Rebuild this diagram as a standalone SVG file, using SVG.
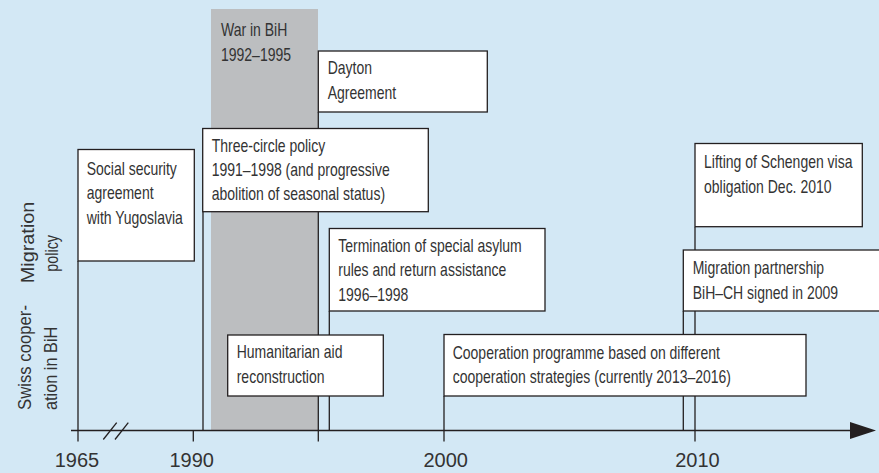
<svg xmlns="http://www.w3.org/2000/svg" width="879" height="473" viewBox="0 0 879 473">
<style>
.bg{fill:#d3e8f5}
.box{fill:#ffffff;stroke:#231f20;stroke-width:1.3}
.ln{stroke:#231f20;stroke-width:1.3;fill:none}
.t{font-family:"Liberation Sans",Arial,sans-serif;font-size:17.5px;fill:#333333}
.yr{font-family:"Liberation Sans",Arial,sans-serif;font-size:20px;fill:#333333;text-anchor:middle}
.side{font-family:"Liberation Sans",Arial,sans-serif;font-size:18px;fill:#333333}
</style>
<rect class="bg" x="0" y="0" width="879" height="473"/>
<rect id="war-band" x="211" y="9" width="107" height="421.5" fill="#bcbec0"/>
<g id="connectors">
  <line class="ln" x1="78" y1="261" x2="78" y2="441.5"/>
  <line class="ln" x1="193.3" y1="430.5" x2="193.3" y2="441.5"/>
  <line class="ln" x1="203" y1="212" x2="203" y2="430.5"/>
  <line class="ln" x1="318.3" y1="112" x2="318.3" y2="441.5"/>
  <line class="ln" x1="329.3" y1="311" x2="329.3" y2="430.5"/>
  <line class="ln" x1="444" y1="396" x2="444" y2="441.5"/>
  <line class="ln" x1="683.3" y1="311" x2="683.3" y2="430.5"/>
  <line class="ln" x1="695" y1="227" x2="695" y2="441.5"/>
  <line class="ln" x1="71" y1="430.5" x2="852" y2="430.5"/>
  <polygon points="850,422 876,430.5 850,439" fill="#231f20"/>
  <line class="ln" x1="103.3" y1="439.5" x2="116.7" y2="422.7"/>
  <line class="ln" x1="115" y1="439.5" x2="128.3" y2="422.7"/>
</g>
<g id="war">
  <text class="t" transform="matrix(0.8,0,0,1,221,36)">War in BiH</text>
  <text class="t" transform="matrix(0.8,0,0,1,221,61)">1992–1995</text>
</g>
<g id="dayton">
  <rect class="box" x="318.3" y="51" width="169" height="61"/>
  <text class="t" transform="matrix(0.8,0,0,1,327.7,74)">Dayton</text>
  <text class="t" transform="matrix(0.8,0,0,1,327.7,99)">Agreement</text>
</g>
<g id="social-security">
  <rect class="box" x="78" y="149.5" width="116.3" height="111.5"/>
  <text class="t" transform="matrix(0.8,0,0,1,86.7,175)">Social security</text>
  <text class="t" transform="matrix(0.8,0,0,1,86.7,199.3)">agreement</text>
  <text class="t" transform="matrix(0.8,0,0,1,86.7,223.5)">with Yugoslavia</text>
</g>
<g id="three-circle">
  <rect class="box" x="202.7" y="128.5" width="225.6" height="83.2"/>
  <text class="t" transform="matrix(0.8,0,0,1,211.7,151.7)">Three-circle policy</text>
  <text class="t" transform="matrix(0.8,0,0,1,211.7,176)">1991–1998 (and progressive</text>
  <text class="t" transform="matrix(0.8,0,0,1,211.7,200.3)">abolition of seasonal status)</text>
</g>
<g id="termination">
  <rect class="box" x="329.3" y="228.5" width="215.7" height="82.5"/>
  <text class="t" transform="matrix(0.8,0,0,1,338.3,251.7)">Termination of special asylum</text>
  <text class="t" transform="matrix(0.8,0,0,1,338.3,276)">rules and return assistance</text>
  <text class="t" transform="matrix(0.8,0,0,1,338.3,301)">1996–1998</text>
</g>
<g id="humanitarian">
  <rect class="box" x="227.7" y="335" width="155.6" height="61"/>
  <text class="t" transform="matrix(0.8,0,0,1,236.7,358.3)">Humanitarian aid</text>
  <text class="t" transform="matrix(0.8,0,0,1,236.7,382.7)">reconstruction</text>
</g>
<g id="cooperation">
  <rect class="box" x="444" y="334.5" width="362" height="61.5"/>
  <text class="t" transform="matrix(0.8,0,0,1,452.7,359.3)">Cooperation programme based on different</text>
  <text class="t" transform="matrix(0.8,0,0,1,452.7,383.3)">cooperation strategies (currently 2013–2016)</text>
</g>
<g id="lifting">
  <rect class="box" x="695" y="143.5" width="167.3" height="83.2"/>
  <text class="t" transform="matrix(0.8,0,0,1,704,168.3)">Lifting of Schengen visa</text>
  <text class="t" transform="matrix(0.8,0,0,1,704,193.3)">obligation Dec. 2010</text>
</g>
<g id="partnership">
  <rect class="box" x="683.3" y="250" width="200" height="61"/>
  <text class="t" transform="matrix(0.8,0,0,1,692.7,274)">Migration partnership</text>
  <text class="t" transform="matrix(0.8,0,0,1,692.7,299.3)">BiH–CH signed in 2009</text>
</g>
<g id="axis-labels">
  <text class="yr" x="77" y="466.7">1965</text>
  <text class="yr" x="191.7" y="466.7">1990</text>
  <text class="yr" x="445.7" y="466.7">2000</text>
  <text class="yr" x="697.5" y="466.7">2010</text>
</g>
<g id="row-labels">
  <text class="side" transform="translate(33.5,283.3) rotate(-90)" textLength="81.7" lengthAdjust="spacingAndGlyphs">Migration</text>
  <text class="side" transform="translate(58,271.7) rotate(-90)" textLength="36.7" lengthAdjust="spacingAndGlyphs">policy</text>
  <text class="side" transform="translate(31,410) rotate(-90)" textLength="105" lengthAdjust="spacingAndGlyphs">Swiss cooper-</text>
  <text class="side" transform="translate(56.7,410) rotate(-90)" textLength="83.3" lengthAdjust="spacingAndGlyphs">ation in BiH</text>
</g>
</svg>
